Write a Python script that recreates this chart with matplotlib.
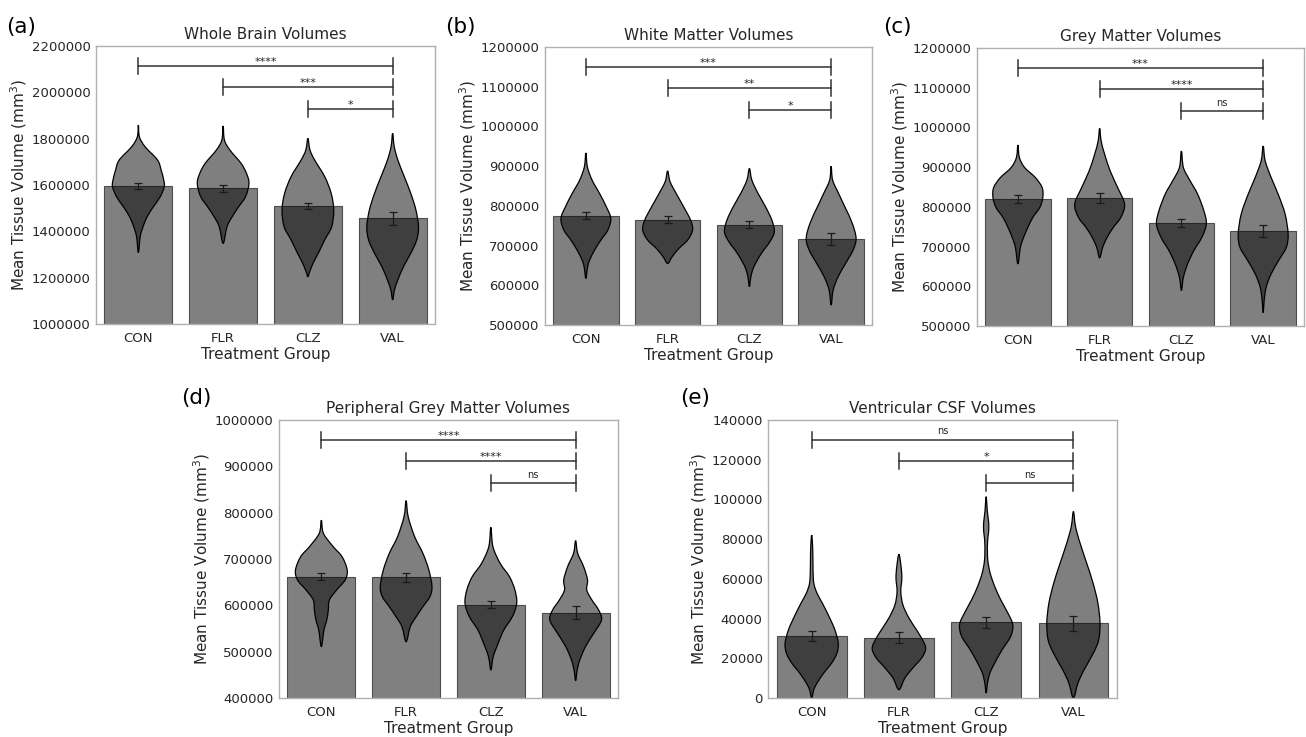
import numpy as np
import matplotlib
matplotlib.use('Agg')
import matplotlib.pyplot as plt
from matplotlib.path import Path
from matplotlib.patches import PathPatch
from matplotlib.ticker import FuncFormatter

groups = ['CON', 'FLR', 'CLZ', 'VAL']

titles = ['Whole Brain Volumes', 'White Matter Volumes', 'Grey Matter Volumes',
          'Peripheral Grey Matter Volumes', 'Ventricular CSF Volumes']
panel_letters = ['(a)', '(b)', '(c)', '(d)', '(e)']

# bar heights (group means) and error bars
wb_means = [1595700, 1585700, 1509000, 1456000]
wb_err = [13700, 16000, 14400, 27000]
wm_means = [775000, 765000, 753000, 717000]
wm_err = [9200, 8400, 8800, 14700]
gm_means = [820300, 822000, 759300, 740000]
gm_err = [9600, 13400, 10000, 15000]
pgm_means = [662000, 660500, 601500, 584000]
pgm_err = [8300, 10000, 8300, 14000]
csf_means = [31300, 30300, 38200, 37700]
csf_err = [2500, 2700, 2700, 3800]

# significance labels: CON-VAL, FLR-VAL, CLZ-VAL
wb_sig = ['****', '***', '*']
wm_sig = ['***', '**', '*']
gm_sig = ['***', '****', 'ns']
pgm_sig = ['****', '****', 'ns']
csf_sig = ['ns', '*', 'ns']

# violin outlines: volume levels and relative half widths
wb_vy = [
    [1859000, 1808000, 1765000, 1708000, 1665000, 1622000, 1593000, 1550000, 1506000, 1463000, 1420000, 1377000, 1308000],
    [1855000, 1794000, 1751000, 1694000, 1651000, 1607000, 1550000, 1506000, 1463000, 1420000, 1348000],
    [1801000, 1751000, 1708000, 1636000, 1564000, 1492000, 1420000, 1363000, 1305000, 1262000, 1226000, 1204000],
    [1823000, 1766000, 1708000, 1636000, 1564000, 1492000, 1420000, 1363000, 1305000, 1248000, 1190000, 1147000, 1104000],
]
wb_vw = [
    [0, 0.04, 0.26, 0.74, 0.88, 0.98, 1.0, 0.85, 0.58, 0.34, 0.18, 0.07, 0],
    [0, 0.05, 0.26, 0.69, 0.9, 1.0, 0.87, 0.6, 0.35, 0.15, 0],
    [0, 0.08, 0.26, 0.65, 0.9, 1.0, 0.92, 0.65, 0.4, 0.2, 0.07, 0],
    [0, 0.06, 0.2, 0.45, 0.7, 0.9, 1.0, 0.93, 0.7, 0.42, 0.2, 0.07, 0],
]
wm_vy = [
    [933400, 898200, 864700, 831100, 797600, 768300, 739000, 713800, 688700, 663500, 646700, 617400],
    [888000, 860500, 827000, 793400, 764100, 739000, 713800, 692800, 671900, 655100],
    [894000, 864700, 831100, 797600, 764100, 734800, 709600, 680300, 646700, 621600, 596500],
    [899900, 864700, 831100, 797600, 755700, 718000, 688700, 655100, 621600, 588000, 550300],
]
wm_vw = [
    [0, 0.06, 0.25, 0.55, 0.82, 1.0, 0.88, 0.6, 0.35, 0.15, 0.07, 0],
    [0, 0.1, 0.38, 0.68, 0.92, 1.0, 0.8, 0.45, 0.18, 0],
    [0, 0.1, 0.35, 0.65, 0.9, 1.0, 0.82, 0.48, 0.18, 0.06, 0],
    [0, 0.06, 0.3, 0.55, 0.85, 1.0, 0.88, 0.58, 0.28, 0.08, 0],
]
gm_vy = [
    [955800, 924000, 898900, 873800, 848800, 823700, 798600, 773500, 748400, 723300, 698200, 656400],
    [997600, 965800, 932400, 890600, 848800, 806900, 773500, 748400, 723300, 698200, 671500],
    [940700, 898900, 865500, 832000, 790200, 756800, 723300, 689900, 656400, 622950, 589500],
    [953300, 915700, 873800, 832000, 781850, 731700, 698200, 664800, 631300, 597900, 564400, 533500],
]
gm_vw = [
    [0, 0.06, 0.27, 0.7, 0.97, 1.0, 0.88, 0.6, 0.4, 0.23, 0.1, 0],
    [0, 0.06, 0.2, 0.42, 0.72, 1.0, 0.85, 0.55, 0.3, 0.12, 0],
    [0, 0.08, 0.35, 0.65, 0.9, 1.0, 0.82, 0.5, 0.25, 0.08, 0],
    [0, 0.08, 0.32, 0.6, 0.88, 1.0, 0.93, 0.62, 0.32, 0.12, 0.04, 0],
]
pgm_vy = [
    [784000, 755400, 726600, 705000, 676300, 654700, 633100, 611500, 589900, 568400, 546800, 510800],
    [825900, 791400, 748200, 712200, 676300, 640300, 618700, 597100, 575500, 553900, 521600],
    [768300, 726600, 690600, 661900, 633100, 604300, 575500, 546800, 518000, 489200, 460400],
    [739600, 712200, 683500, 654700, 633100, 611500, 589900, 568400, 539600, 510800, 482000, 460400, 437400],
]
pgm_vw = [
    [0, 0.08, 0.46, 0.8, 1.0, 0.92, 0.59, 0.31, 0.27, 0.21, 0.1, 0],
    [0, 0.08, 0.33, 0.65, 0.88, 1.0, 0.92, 0.65, 0.39, 0.16, 0],
    [0, 0.08, 0.36, 0.72, 0.93, 1.0, 0.83, 0.5, 0.28, 0.09, 0],
    [0, 0.08, 0.31, 0.46, 0.43, 0.63, 0.89, 1.0, 0.7, 0.38, 0.16, 0.06, 0],
]
csf_vy = [
    [82100, 74600, 64500, 57800, 52800, 47800, 41100, 34400, 27600, 22600, 17600, 12550, 7500, 4200, 0],
    [72400, 66200, 60300, 53600, 46900, 40200, 33500, 27600, 24300, 20100, 15100, 10000, 4200],
    [101400, 94700, 86300, 78000, 69600, 62900, 56200, 49400, 42700, 36900, 31000, 24300, 17600, 12550, 7500, 2500],
    [93900, 86300, 78000, 67900, 57800, 47800, 37700, 29300, 22600, 14200, 7500, 0],
]
csf_vw = [
    [0, 0.04, 0.05, 0.08, 0.2, 0.4, 0.65, 0.87, 1.0, 0.95, 0.75, 0.45, 0.2, 0.08, 0],
    [0, 0.08, 0.11, 0.07, 0.15, 0.38, 0.7, 0.95, 1.0, 0.85, 0.52, 0.22, 0],
    [0, 0.04, 0.1, 0.05, 0.06, 0.15, 0.32, 0.55, 0.82, 1.0, 0.92, 0.6, 0.32, 0.14, 0.05, 0],
    [0, 0.08, 0.25, 0.5, 0.74, 0.92, 1.0, 0.95, 0.75, 0.4, 0.17, 0],
]

ylims = [(1000000, 2200000), (500000, 1200000), (500000, 1200000), (400000, 1000000), (0, 140000)]
yticks = [np.arange(1000000, 2200001, 200000), np.arange(500000, 1200001, 100000),
          np.arange(500000, 1200001, 100000), np.arange(400000, 1000001, 100000),
          np.arange(0, 140001, 20000)]

panels = [
    (wb_means, wb_err, wb_sig, wb_vy, wb_vw),
    (wm_means, wm_err, wm_sig, wm_vy, wm_vw),
    (gm_means, gm_err, gm_sig, gm_vy, gm_vw),
    (pgm_means, pgm_err, pgm_sig, pgm_vy, pgm_vw),
    (csf_means, csf_err, csf_sig, csf_vy, csf_vw),
]

# axes boxes in figure fractions [left, bottom, width, height]
boxes = [
    [0.0735, 0.5604, 0.2596, 0.3772],
    [0.4173, 0.5590, 0.2504, 0.3772],
    [0.7481, 0.5577, 0.2504, 0.3772],
    [0.2136, 0.0529, 0.2596, 0.3772],
    [0.5881, 0.0529, 0.2672, 0.3772],
]

text_col = '#262626'


def violin_patch(xc, ys, ws, half=0.305):
    # closed outline (right side down, left side up), drawn as a smooth bezier
    right = [(xc + w * half, y) for y, w in zip(ys, ws)]
    left = [(xc - w * half, y) for y, w in zip(ys[::-1], ws[::-1])][1:-1]
    pts = np.array(right + left, dtype=float)
    n = len(pts)
    verts = [pts[0]]
    codes = [Path.MOVETO]
    for i in range(n):
        p0, p1, p2, p3 = pts[i - 1], pts[i], pts[(i + 1) % n], pts[(i + 2) % n]
        verts += [p1 + (p2 - p0) / 6, p2 - (p3 - p1) / 6, p2]
        codes += [Path.CURVE4] * 3
    return PathPatch(Path(verts, codes), facecolor=(0, 0, 0, 0.5),
                     edgecolor='black', linewidth=0.9, zorder=2)


fig = plt.figure(figsize=(13.06, 7.37), dpi=100)

for i, (means, err, sig, vy, vw) in enumerate(panels):
    ax = fig.add_axes(boxes[i])
    x = np.arange(len(groups))
    ax.bar(x, means, width=0.8, color='#808080', edgecolor='#4d4d4d', linewidth=0.8, zorder=1)

    for k in range(len(groups)):
        ax.add_patch(violin_patch(x[k], vy[k], vw[k]))

    ax.errorbar(x, means, yerr=err, fmt='none', ecolor='#1a1a1a', elinewidth=0.9,
                capsize=2.6, capthick=0.9, zorder=3)

    # significance brackets (y in axes fraction)
    trans = ax.get_xaxis_transform()
    levels = [0.929, 0.853, 0.773]
    for j, lab in enumerate(sig):
        y0 = levels[j]
        ax.plot([x[j], x[3]], [y0, y0], color='#333333', lw=1.1, transform=trans, zorder=4)
        for xe in (x[j], x[3]):
            ax.plot([xe, xe], [y0 - 0.029, y0 + 0.029], color='#333333', lw=1.1,
                    transform=trans, zorder=4)
        if lab == 'ns':
            ax.annotate(lab, xy=((x[j] + x[3]) / 2, y0), xycoords=trans,
                        xytext=(0, 4.0), textcoords='offset points',
                        ha='center', va='baseline', fontsize=7, color=text_col)
        else:
            ax.annotate(lab, xy=((x[j] + x[3]) / 2, y0), xycoords=trans,
                        xytext=(0, 0.5), textcoords='offset points',
                        ha='center', va='baseline', fontsize=8, color=text_col)

    ax.set_xlim(-0.5, 3.5)
    ax.set_ylim(*ylims[i])
    ax.set_yticks(yticks[i])
    ax.yaxis.set_major_formatter(FuncFormatter(lambda v, p: '%d' % v))
    ax.set_xticks(x)
    ax.set_xticklabels(groups)
    ax.tick_params(length=0, labelsize=9.5, colors=text_col)
    ax.tick_params(axis='y', pad=4)
    ax.tick_params(axis='x', pad=6)
    for sp in ax.spines.values():
        sp.set_color('#b0b0b0')
        sp.set_linewidth(1.0)
    ax.set_title(titles[i], fontsize=11, color=text_col, pad=5)
    ax.set_xlabel('Treatment Group', fontsize=11, color=text_col, labelpad=1)
    ax.set_ylabel('Mean Tissue Volume (mm$^3$)', fontsize=11, color=text_col, labelpad=2)

letter_pos = [(0.005, 0.955), (0.341, 0.955), (0.676, 0.955), (0.139, 0.452), (0.521, 0.452)]
for lab, (lx, ly) in zip(panel_letters, letter_pos):
    fig.text(lx, ly, lab, fontsize=15.5, color='black', ha='left', va='baseline')

fig.savefig('out.png', dpi=100)
